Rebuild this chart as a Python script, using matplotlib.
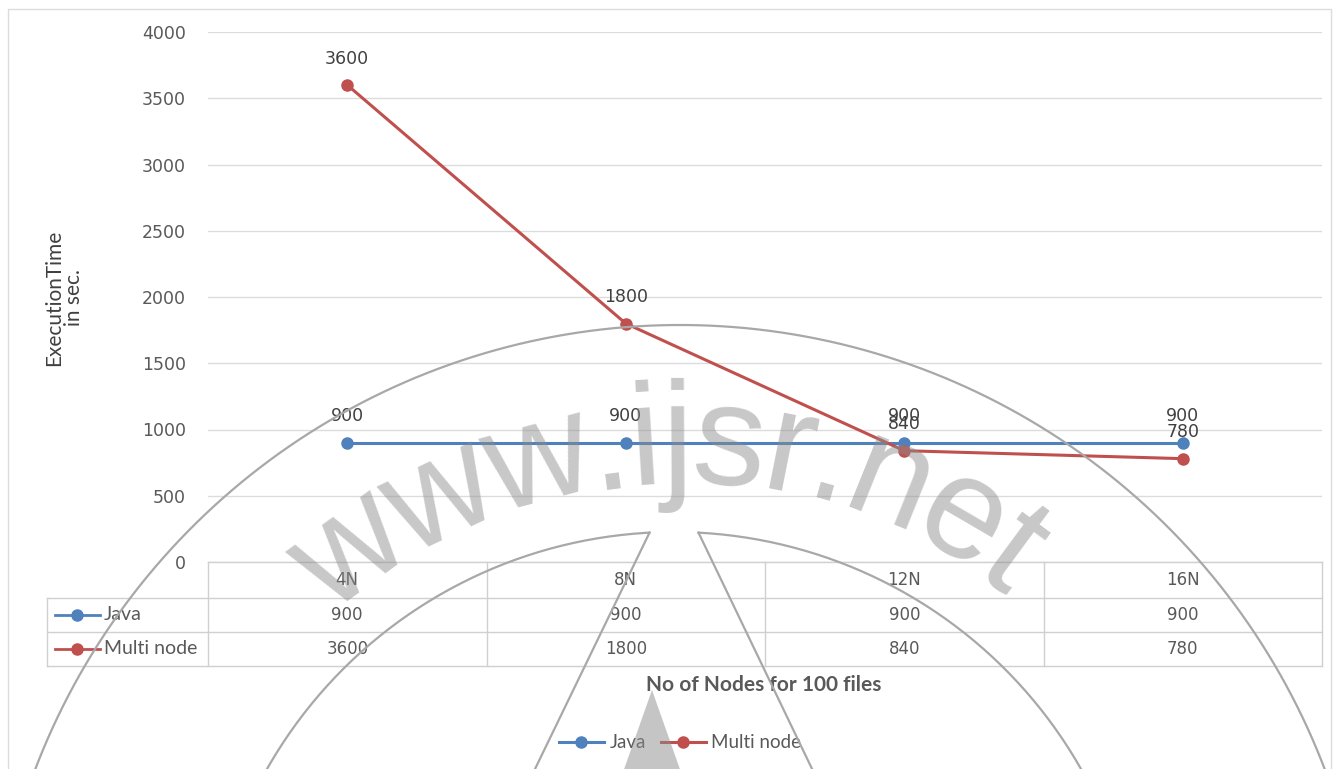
import numpy as np
import matplotlib.pyplot as plt
from matplotlib.lines import Line2D
from matplotlib.patches import Rectangle, Polygon

# execution time (sec) for 100 files
nodes = ['4N', '8N', '12N', '16N']
java = [900, 900, 900, 900]
multi_node = [3600, 1800, 840, 780]
series_names = ['Java', 'Multi node']
yticks = [0, 500, 1000, 1500, 2000, 2500, 3000, 3500, 4000]

blue = '#4F81BD'
red = '#C0504D'
grid_c = '#DCDCDC'
text_c = '#595959'
num_font = ['DejaVu Sans']

plt.rcParams['font.family'] = ['Lato', 'DejaVu Sans']

W, H = 1338, 769
fig = plt.figure(figsize=(W / 100, H / 100), dpi=100)


def px(x0, y0, x1, y1):
    # pixel box (top-left origin) -> figure fraction
    return [x0 / W, 1 - y1 / H, (x1 - x0) / W, (y1 - y0) / H]


ax = fig.add_axes(px(208, 32, 1322, 562))
x = np.arange(len(nodes))
ax.set_xlim(-0.5, len(nodes) - 0.5)
ax.set_ylim(0, 4000)
ax.set_yticks(yticks)
ax.set_xticks([])
ax.tick_params(axis='y', length=0, pad=16, labelsize=12.5, labelcolor=text_c)
for lab in ax.get_yticklabels():
    lab.set_family(num_font)
for s in ax.spines.values():
    s.set_visible(False)
ax.grid(axis='y', color=grid_c, lw=1)
ax.set_axisbelow(True)

series = [java, multi_node]
colors = [blue, red]
for vals, c in zip(series, colors):
    ax.plot(x, vals, color=c, lw=2.2, marker='o', ms=8, zorder=3)
    for xi, v in zip(x, vals):
        ax.annotate(str(v), (xi, v), xytext=(0, 19), textcoords='offset points',
                    ha='center', va='center', fontsize=12.5, family=num_font,
                    color='#404040')

# data table under the plot
tr = ax.transAxes
tbl_c = '#D0D0D0'
cols = np.linspace(0, 1, len(nodes) + 1)
rows = -np.array([0, 36, 70, 104]) / 530
left = (47 - 208) / 1114


def seg(xs, ys):
    ax.add_line(Line2D(xs, ys, transform=tr, color=tbl_c, lw=1, clip_on=False))


seg([0, 1], [rows[0], rows[0]])
for r in rows[1:]:
    seg([left, 1], [r, r])
seg([left, left], [rows[1], rows[3]])
for c in cols:
    seg([c, c], [rows[0], rows[3]])

mids = (cols[:-1] + cols[1:]) / 2
for i, lab in enumerate(nodes):
    ax.text(mids[i], (rows[0] + rows[1]) / 2, lab, transform=tr, ha='center',
            va='center', fontsize=12, family=num_font, color=text_c)
for k, (name, vals, c) in enumerate(zip(series_names, series, colors)):
    yc = (rows[k + 1] + rows[k + 2]) / 2
    for i, v in enumerate(vals):
        ax.text(mids[i], yc, str(v), transform=tr, ha='center', va='center',
                fontsize=12, family=num_font, color=text_c)
    k0, k1 = (55 - 208) / 1114, (100 - 208) / 1114
    ax.add_line(Line2D([k0, k1], [yc, yc], transform=tr, color=c, lw=2,
                       clip_on=False))
    ax.add_line(Line2D([(k0 + k1) / 2], [yc], transform=tr, color=c, marker='o',
                       ms=8, clip_on=False))
    ax.text((104 - 208) / 1114, yc, name, transform=tr, ha='left', va='center',
            fontsize=14, color=text_c)

fig.text(64 / W, 1 - 298 / H, 'ExecutionTime\nin sec.', rotation=90, ha='center',
         va='center', fontsize=15, color='#404040', multialignment='center',
         linespacing=0.95)
fig.text(764 / W, 1 - 685 / H, 'No of Nodes for 100 files', ha='center',
         va='center', fontsize=15, fontweight='bold', color=text_c)

handles = [Line2D([], [], color=c, lw=2.2, marker='o', ms=8) for c in colors]
fig.legend(handles, series_names, loc='center', bbox_to_anchor=(680 / W, 1 - 743 / H),
           ncol=2, frameon=False, fontsize=13.5, handlelength=2.4,
           columnspacing=0.8, handletextpad=0.3, labelcolor=text_c)

fig.add_artist(Rectangle((8 / W, -0.01), (1331 - 8) / W, 1.01 - 9 / H,
                         transform=fig.transFigure, fill=False, ec=grid_c, lw=1))

# watermark overlay in pixel coordinates
wm = fig.add_axes([0, 0, 1, 1], zorder=10)
wm.set_xlim(0, W)
wm.set_ylim(H, 0)
wm.axis('off')
wm.patch.set_alpha(0)
arc_c = '#a8a8a8'

t = np.linspace(0, 2 * np.pi, 721)
wm.plot(680 + 690 * np.cos(t), 1015 + 690 * np.sin(t), color=arc_c, lw=1.6)
gap = np.radians(3)
t2 = np.linspace(-np.pi / 2 + gap, 3 * np.pi / 2 - gap, 721)
ix, iy = 674 + 468 * np.cos(t2), 1000 + 468 * np.sin(t2)
wm.plot(ix, iy, color=arc_c, lw=1.6)
wm.plot([ix[-1], 520], [iy[-1], 800], color=arc_c, lw=1.6)
wm.plot([ix[0], 827], [iy[0], 800], color=arc_c, lw=1.6)
wm.add_patch(Polygon([[652, 690], [622, 775], [682, 775]], closed=True,
                     fc='#8c8c8c', ec='none', alpha=0.5))

word = 'www.ijsr.net'
adv = {'w': 0.722, '.': 0.278, 'i': 0.222, 'j': 0.222, 's': 0.5, 'r': 0.333,
       'n': 0.556, 'e': 0.556, 't': 0.278}
em = 145
cx, cy, r_mid, r_base = 680, 1005, 560, 522
widths = np.array([adv[ch] for ch in word]) * em
centers = np.cumsum(widths) - widths / 2
theta = np.radians(-1.5) + (centers - widths.sum() / 2) / r_mid
for ch, th in zip(word, theta):
    wm.text(cx + r_base * np.sin(th), cy - r_base * np.cos(th), ch,
            rotation=-np.degrees(th), rotation_mode='anchor', ha='center',
            va='baseline', fontsize=em * 0.72, family='Liberation Sans',
            color='#8c8c8c', alpha=0.48)

fig.savefig('out.png', dpi=100)
